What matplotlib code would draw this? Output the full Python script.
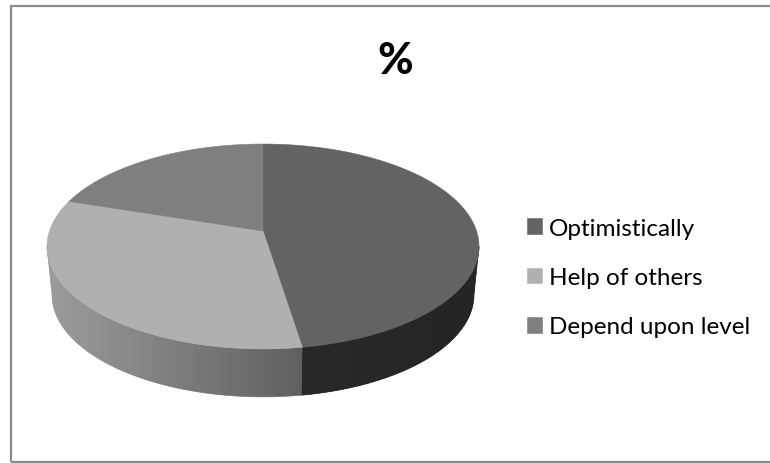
"""3D-look pie chart: share of responses, drawn on a single pixel-scaled axes."""

import matplotlib

matplotlib.use("Agg")
import matplotlib.pyplot as plt
import numpy as np
from matplotlib.colors import LinearSegmentedColormap
from matplotlib.patches import Rectangle

labels = ["Optimistically", "Help of others", "Depend upon level"]
values = [47.5, 32.5, 20]
colors = ["#636363", "#b0b0b0", "#7f7f7f"]

# front wall shade, left end and right end of each visible piece
wall_shades = {0: ("#292929", "#252525"), 1: ("#9c9c9c", "#606060")}

W, H = 770, 464

# perspective of the disc, in pixels
CX, CY = 263, 232
A, B, K = 213.5, 100.1, 0.151
DEPTH = 48
BOTTOM_SCALE = 0.977

# the silhouette of the disc touches its side walls at these angles
SIDE_RIGHT = np.degrees(np.arccos(-K))
SIDE_LEFT = 360 - SIDE_RIGHT


def project(theta_deg, bottom=False):
    """Angle clockwise from the top of the disc -> pixel position."""
    t = np.radians(theta_deg)
    x, y = np.sin(t), np.cos(t)
    d = 1 + K * y
    px = A * x / d
    py = B * y / d
    if bottom:
        return CX + px * BOTTOM_SCALE, CY - py + DEPTH
    return CX + px, CY - py


plt.rcParams["font.family"] = ["Lato", "DejaVu Sans"]

fig = plt.figure(figsize=(W / 100, H / 100), dpi=100)
ax = fig.add_axes([0, 0, 1, 1])

bounds = np.cumsum([0] + values) / sum(values) * 360

# front wall first, the top face goes over it
for i, (left, right) in wall_shades.items():
    lo, hi = max(bounds[i], SIDE_RIGHT), min(bounds[i + 1], SIDE_LEFT)
    th = np.linspace(lo, hi, 120)
    tx, ty = project(th)
    bx, by = project(th, bottom=True)
    poly = ax.fill(np.r_[tx, bx[::-1]], np.r_[ty, by[::-1]], color=left, lw=0.5, zorder=1)[0]
    x0, x1 = min(tx.min(), bx.min()), max(tx.max(), bx.max())
    cmap = LinearSegmentedColormap.from_list(f"wall{i}", [left, right])
    im = ax.imshow(
        np.linspace(0, 1, 256)[None, :],
        cmap=cmap,
        extent=(x0, x1, by.max() + 1, ty.min() - 1),
        aspect="auto",
        zorder=1.5,
    )
    im.set_clip_path(poly)

# top face
wedges = []
for i, col in enumerate(colors):
    th = np.linspace(bounds[i], bounds[i + 1], 200)
    tx, ty = project(th)
    wedges.append(ax.fill(np.r_[CX, tx], np.r_[CY, ty], color=col, lw=0.4, zorder=2)[0])

ax.set_xlim(0, W)
ax.set_ylim(H, 0)
ax.axis("off")

fig.text(395 / W, 1 - 60.5 / H, "%", fontsize=31, fontweight=900, ha="center", va="center")

ax.legend(
    wedges,
    labels,
    loc="center left",
    bbox_to_anchor=(527 / W, 1 - 278.5 / H),
    frameon=False,
    fontsize=17.5,
    labelspacing=1.17,
    handlelength=0.62,
    handleheight=0.62,
    handletextpad=0.29,
    borderpad=0,
    borderaxespad=0,
)

# chart outer border
fig.add_artist(
    Rectangle(
        (11 / W, 1 - 463 / H),
        (W + 20) / W,
        456 / H,
        transform=fig.transFigure,
        fill=False,
        edgecolor="#8a8a8a",
        lw=1.6,
    )
)

fig.savefig("out.png", dpi=100)
